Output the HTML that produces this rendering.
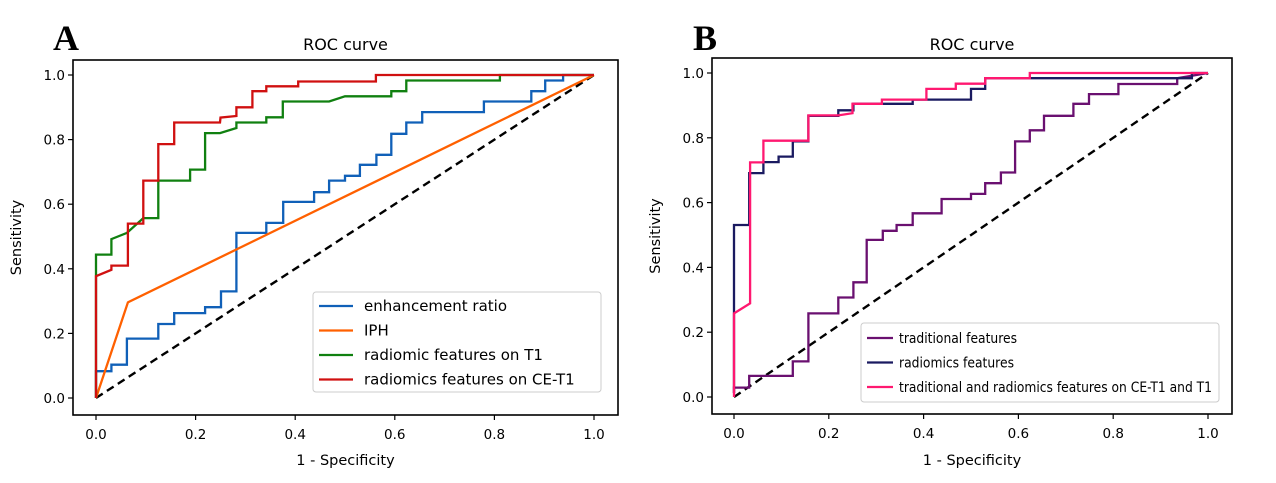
<!DOCTYPE html>
<html><head><meta charset="utf-8"><style>
html,body{margin:0;padding:0;background:#fff;}
svg{display:block;font-family:"DejaVu Sans","Liberation Sans",sans-serif;}
</style></head><body>
<svg id="chart" width="1276" height="483" viewBox="0 0 1276 483" xmlns="http://www.w3.org/2000/svg"></svg>
<script>
// Panel A data
const aBlueX=[0,0,0.031,0.031,0.062,0.062,0.125,0.125,0.157,0.157,0.219,0.219,0.251,0.251,0.282,0.282,0.342,0.342,0.376,0.376,0.438,0.438,0.468,0.468,0.5,0.5,0.53,0.53,0.563,0.563,0.593,0.593,0.623,0.623,0.655,0.655,0.779,0.779,0.874,0.874,0.902,0.902,0.938,0.938,1];
const aBlueY=[0,0.083,0.083,0.103,0.103,0.184,0.184,0.229,0.229,0.263,0.263,0.281,0.281,0.33,0.33,0.511,0.511,0.542,0.542,0.607,0.607,0.637,0.637,0.673,0.673,0.688,0.688,0.722,0.722,0.753,0.753,0.818,0.818,0.853,0.853,0.885,0.885,0.918,0.918,0.95,0.95,0.983,0.983,1,1];
const aOrangeX=[0,0.064,1];
const aOrangeY=[0,0.296,1];
const aGreenX=[0,0,0.031,0.031,0.062,0.095,0.125,0.125,0.189,0.189,0.219,0.219,0.249,0.282,0.282,0.342,0.342,0.375,0.375,0.468,0.5,0.593,0.593,0.623,0.623,0.811,0.811,1];
const aGreenY=[0,0.444,0.444,0.492,0.511,0.557,0.557,0.673,0.673,0.707,0.707,0.82,0.82,0.836,0.853,0.853,0.869,0.869,0.918,0.918,0.934,0.934,0.95,0.95,0.983,0.983,1,1];
const aRedX=[0,0,0.031,0.031,0.064,0.064,0.095,0.095,0.125,0.125,0.157,0.157,0.249,0.25,0.282,0.282,0.314,0.314,0.342,0.342,0.406,0.406,0.562,0.562,1];
const aRedY=[0,0.377,0.397,0.41,0.41,0.54,0.54,0.673,0.673,0.786,0.786,0.853,0.853,0.868,0.873,0.9,0.9,0.95,0.95,0.965,0.965,0.98,0.98,1,1];
// Panel B data
const bPurpleX=[0,0,0.032,0.032,0.124,0.124,0.157,0.157,0.22,0.22,0.252,0.252,0.28,0.28,0.314,0.314,0.343,0.343,0.377,0.377,0.438,0.438,0.5,0.5,0.53,0.53,0.563,0.563,0.593,0.593,0.624,0.624,0.654,0.654,0.716,0.716,0.749,0.749,0.811,0.811,0.935,0.935,1];
const bPurpleY=[0.012,0.029,0.029,0.065,0.065,0.11,0.11,0.258,0.258,0.307,0.307,0.354,0.354,0.485,0.485,0.513,0.513,0.531,0.531,0.567,0.567,0.611,0.611,0.627,0.627,0.66,0.66,0.693,0.693,0.789,0.789,0.823,0.823,0.868,0.868,0.905,0.905,0.935,0.935,0.966,0.966,0.984,1];
const bNavyX=[0,0,0.032,0.032,0.062,0.062,0.094,0.094,0.124,0.124,0.157,0.157,0.22,0.22,0.252,0.252,0.377,0.377,0.5,0.5,0.53,0.53,0.966,0.966,1];
const bNavyY=[0.012,0.531,0.531,0.691,0.691,0.725,0.725,0.742,0.742,0.789,0.789,0.868,0.868,0.885,0.885,0.905,0.905,0.918,0.918,0.951,0.951,0.984,0.984,1,1];
const bPinkX=[0,0,0.034,0.034,0.062,0.062,0.157,0.157,0.22,0.25,0.25,0.312,0.312,0.406,0.406,0.468,0.468,0.53,0.53,0.624,0.624,1];
const bPinkY=[0,0.258,0.289,0.724,0.724,0.791,0.791,0.869,0.869,0.876,0.905,0.905,0.918,0.918,0.951,0.951,0.967,0.967,0.984,0.984,1,1];
const tickVals=[0,0.2,0.4,0.6,0.8,1.0];
const tickLabels=["0.0","0.2","0.4","0.6","0.8","1.0"];
const legendA=["enhancement ratio","IPH","radiomic features on T1","radiomics features on CE-T1"];
const legendB=["traditional features","radiomics features","traditional and radiomics features on CE-T1 and T1"];

const NS="http://www.w3.org/2000/svg";
const svg=document.getElementById('chart');
function mk(tag,attrs,parent){const e=document.createElementNS(NS,tag);for(const k in attrs)e.setAttribute(k,attrs[k]);(parent||svg).appendChild(e);return e;}

function panel(p){
  const g=mk('g',{});
  
  
  const sx=v=>p.x0+v*(p.x1-p.x0);
  const sy=v=>p.y0+v*(p.y1-p.y0);
  const l=mk('text',{x:p.letterX,y:50,'font-family':'Liberation Serif,serif','font-weight':'bold','font-size':36},g);
  l.textContent=p.letter;
  
  
  const t=mk('text',{x:(p.fx0+p.fx1)/2,y:50,'text-anchor':'middle','font-size':16},g);
  t.textContent='ROC curve';
  
  
  tickVals.forEach((v,i)=>{
    mk('line',{x1:sx(v),x2:sx(v),y1:p.fy1,y2:p.fy1+5,stroke:'#000','stroke-width':1.2},g);
    const xt=mk('text',{x:sx(v),y:p.fy1+24,'text-anchor':'middle','font-size':13.5},g);
    xt.textContent=tickLabels[i];
    
    
    mk('line',{x1:p.fx0-5,x2:p.fx0,y1:sy(v),y2:sy(v),stroke:'#000','stroke-width':1.2},g);
    const yt=mk('text',{x:p.fx0-8,y:sy(v)+5,'text-anchor':'end','font-size':13.5},g);
    yt.textContent=tickLabels[i];
    
    
  });
  const xl=mk('text',{x:(p.fx0+p.fx1)/2,y:465,'text-anchor':'middle','font-size':14.5},g);
  xl.textContent='1 - Specificity';
  
  
  const yx=p.fx0-52, yy=(p.fy0+p.fy1)/2;
  const yl=mk('text',{x:yx,y:yy,'text-anchor':'middle','font-size':14.5,transform:`rotate(-90 ${yx} ${yy})`},g);
  yl.textContent='Sensitivity';
  
  
  const d=mk('line',{x1:sx(0),y1:sy(0),x2:sx(1),y2:sy(1),stroke:'#000','stroke-width':2.4,'stroke-dasharray':'8,5'},g);
  
  
  p.series.forEach(s=>{
    const pts=s.x.map((v,i)=>sx(v).toFixed(1)+','+sy(s.y[i]).toFixed(1)).join(' ');
    const pl=mk('polyline',{points:pts,fill:'none',stroke:s.c,'stroke-width':2.3},g);
    
    
  });
  mk('rect',{x:p.fx0,y:p.fy0,width:p.fx1-p.fx0,height:p.fy1-p.fy0,fill:'none',stroke:'#000','stroke-width':1.6},g);
  const lg=mk('g',{},g);
  
  
  const L=p.legend;
  mk('rect',{x:L.x,y:L.y,width:L.w,height:L.h,rx:3,fill:'#fff',stroke:'#ccc','stroke-width':1},lg);
  p.labels.forEach((txt,i)=>{
    const yy=L.y+L.first+i*L.step;
    mk('line',{x1:L.x+6,x2:L.x+6+L.ll,y1:yy,y2:yy,stroke:p.series[i].c,'stroke-width':2.3},lg);
    const attrs={x:L.x+L.tx,y:yy+5,'font-size':L.fs};
    if(L.tl){attrs.textLength=L.tl[i];attrs.lengthAdjust='spacingAndGlyphs';}
    const tt=mk('text',attrs,lg);
    tt.textContent=txt;
    
    
  });
}
panel({name:'panel-a',letter:'A',letterX:53,x0:96,x1:594,y0:398,y1:75,fx0:73,fx1:618,fy0:60,fy1:415,
  series:[{x:aBlueX,y:aBlueY,c:'#1060b8',n:'enhancement-ratio-curve'},{x:aOrangeX,y:aOrangeY,c:'#ff6000',n:'iph-curve'},{x:aGreenX,y:aGreenY,c:'#108010',n:'radiomic-t1-curve'},{x:aRedX,y:aRedY,c:'#d01010',n:'radiomics-cet1-curve'}],
  labels:legendA,legend:{x:313,y:292,w:288,h:100,first:14,step:24.5,ll:34,tx:51,fs:15}});
panel({name:'panel-b',letter:'B',letterX:693,x0:734,x1:1208,y0:397,y1:73,fx0:712,fx1:1232,fy0:58,fy1:414,
  series:[{x:bPurpleX,y:bPurpleY,c:'#6a1070',n:'traditional-curve'},{x:bNavyX,y:bNavyY,c:'#1a1a60',n:'radiomics-curve'},{x:bPinkX,y:bPinkY,c:'#ff1870',n:'combined-curve'}],
  labels:legendB,legend:{x:861,y:323,w:358,h:79,first:15,step:24.5,ll:26,tx:38,fs:14,tl:[118,115,313]}});
</script>
</body></html>
